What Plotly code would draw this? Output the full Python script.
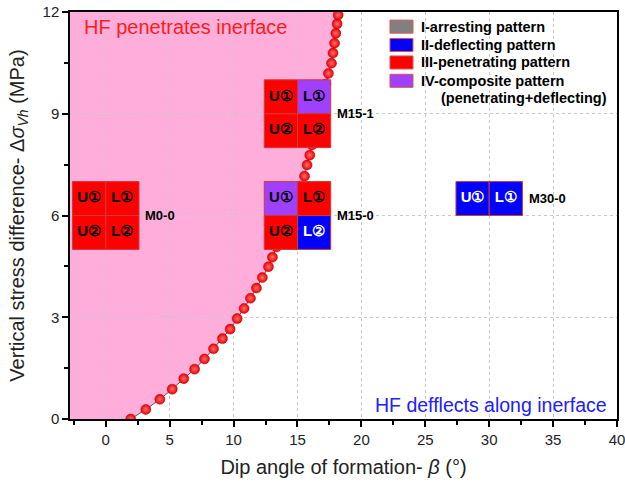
import plotly.graph_objects as go

# ---------------- data ----------------
# critical boundary curve (dip angle in deg, vertical stress difference in MPa)
curve_angle = [1.95, 3.13, 4.23, 5.20, 6.10, 6.95, 7.72, 8.43, 9.13, 9.73,
               10.28, 10.82, 11.32, 11.79, 12.25, 12.73, 13.04, 13.36, 13.68, 14.00,
               14.30, 14.60, 14.90, 15.22, 15.55, 15.75, 15.96, 16.14, 16.32, 16.50,
               16.68, 16.86, 17.04, 17.22, 17.42, 17.66, 17.78, 17.90, 18.00, 18.10,
               18.18]
curve_stress = [0.00, 0.28, 0.58, 0.88, 1.19, 1.47, 1.77, 2.07, 2.37, 2.65,
                2.96, 3.26, 3.56, 3.86, 4.17, 4.49, 4.77, 5.07, 5.37, 5.67,
                5.97, 6.27, 6.57, 6.87, 7.16, 7.49, 7.78, 8.08, 8.38, 8.68,
                8.98, 9.28, 9.58, 9.88, 10.19, 10.49, 10.79, 11.08, 11.37, 11.65,
                11.91]

samples = ["M0-0", "M15-0", "M15-1", "M30-0"]
sample_angle = [0, 15, 15, 30]
sample_stress = [6, 6, 9, 6.5]
sample_rows = [2, 2, 2, 1]

cell_sample = ["M0-0"] * 4 + ["M15-0"] * 4 + ["M15-1"] * 4 + ["M30-0"] * 2
cell_label = ["U①", "L①", "U②", "L②"] * 3 + ["U①", "L①"]
cell_pattern = ["III", "III", "III", "III",
                "IV", "III", "III", "II",
                "III", "IV", "III", "III",
                "II", "II"]

pattern_keys = ["I", "II", "III", "IV"]
pattern_names = ["I-arresting pattern", "II-deflecting pattern",
                 "III-penetrating pattern", "IV-composite pattern"]
pattern_colors = {"I": "#808080", "II": "#0000ff", "III": "#ff0000", "IV": "#a040ff"}
pattern_text_colors = {"I": "black", "II": "white", "III": "black", "IV": "black"}

x_tick_vals = [0, 5, 10, 15, 20, 25, 30, 35, 40]
y_tick_vals = [0, 3, 6, 9, 12]

X_MIN, X_MAX = -2.8, 40
Y_MIN, Y_MAX = 0, 12
CELL_W = 2.6
FONT = "Arial, Liberation Sans, sans-serif"

fig = go.Figure()

# pink region (HF penetrates) - below gridlines
path = "M %f,%f " % (X_MIN, Y_MIN)
for a, s in zip(curve_angle, curve_stress):
    path += "L %f,%f " % (a, s)
path += "L %f,%f L %f,%f Z" % (curve_angle[-1], Y_MAX + 1, X_MIN, Y_MAX + 1)
fig.add_shape(type="path", path=path, xref="x", yref="y", layer="below",
              fillcolor="#ffaedc", line=dict(width=0))

# boundary curve
fig.add_trace(go.Scatter(
    x=curve_angle, y=curve_stress, mode="lines+markers",
    line=dict(color="#555555", width=1),
    marker=dict(size=10, color="#ee0000",
                gradient=dict(type="radial", color="#ff7070"),
                line=dict(width=0.5, color="#b00000")),
    showlegend=False, hoverinfo="skip", cliponaxis=True))

# cells
idx = {s: i for i, s in enumerate(samples)}
lab_x, lab_y, lab_c = [], [], []
for samp, lab, pat in zip(cell_sample, cell_label, cell_pattern):
    i = idx[samp]
    col = 0 if lab.startswith("U") else 1
    row = 0 if "①" in lab else 1
    x0 = sample_angle[i] - CELL_W + col * CELL_W
    x1 = x0 + CELL_W
    top = sample_stress[i] + sample_rows[i] / 2
    y1 = top - row
    y0 = y1 - 1
    fig.add_trace(go.Scatter(
        x=[x0, x1, x1, x0, x0], y=[y0, y0, y1, y1, y0], mode="lines",
        fill="toself", fillcolor=pattern_colors[pat],
        line=dict(color="#d03838", width=1),
        showlegend=False, hoverinfo="skip"))
    lab_x.append((x0 + x1) / 2)
    lab_y.append((y0 + y1) / 2)
    lab_c.append(pattern_text_colors[pat])

fig.add_trace(go.Scatter(
    x=lab_x, y=lab_y, mode="text", text=["<b>%s</b>" % t for t in cell_label],
    textfont=dict(size=15, color=lab_c, family=FONT),
    textposition="middle center", showlegend=False, hoverinfo="skip"))

# sample names
for s, a, st in zip(samples, sample_angle, sample_stress):
    fig.add_annotation(x=a + CELL_W + 0.35, y=st, xref="x", yref="y",
                       text="<b>%s</b>" % s, showarrow=False, xanchor="left",
                       font=dict(size=13, color="black", family=FONT))

# region texts
fig.add_annotation(x=0.022, y=0.963, xref="paper", yref="paper",
                   text="HF penetrates inerface", showarrow=False,
                   xanchor="left", yanchor="middle",
                   font=dict(size=20, color="#ff1a1a", family=FONT))
fig.add_annotation(x=0.985, y=0.034, xref="paper", yref="paper",
                   text="HF defflects along inerface", showarrow=False,
                   xanchor="right", yanchor="middle",
                   font=dict(size=19.5, color="#2020ff", family=FONT))

# manual legend
leg_y = [0.964, 0.919, 0.876, 0.831]
for k, name, yy in zip(pattern_keys, pattern_names, leg_y):
    fig.add_shape(type="rect", xref="paper", yref="paper",
                  x0=0.585, x1=0.627, y0=yy - 0.016, y1=yy + 0.016,
                  fillcolor=pattern_colors[k], line=dict(color="#e05050", width=1))
    fig.add_annotation(x=0.638, y=yy, xref="paper", yref="paper",
                       text="<b>%s</b>" % name, showarrow=False,
                       xanchor="left", yanchor="middle",
                       font=dict(size=14.5, color="black", family=FONT))
fig.add_annotation(x=0.675, y=0.789, xref="paper", yref="paper",
                   text="<b>(penetrating+deflecting)</b>", showarrow=False,
                   xanchor="left", yanchor="middle",
                   font=dict(size=14.5, color="black", family=FONT))

axis_common = dict(
    showline=True, linecolor="black", linewidth=1.5, mirror=True,
    ticks="outside", ticklen=6, tickwidth=1.5, tickcolor="black",
    showgrid=True, gridcolor="#c8c8c8", griddash="dot", gridwidth=1,
    zeroline=False, tickfont=dict(size=15, color="#222222", family=FONT),
    automargin=False, ticklabeloverflow="allow",
)

fig.update_xaxes(range=[X_MIN, X_MAX], tickvals=x_tick_vals,
                 minor=dict(ticks="outside", ticklen=4, tickwidth=1.5,
                            tickcolor="black", dtick=2.5, tick0=0, showgrid=False),
                 title=dict(text="Dip angle of formation- <i>β</i> (°)",
                            font=dict(size=20, color="#222222", family=FONT),
                            standoff=13),
                 **axis_common)
fig.update_yaxes(range=[Y_MIN, Y_MAX], tickvals=y_tick_vals,
                 minor=dict(ticks="outside", ticklen=4, tickwidth=1.5,
                            tickcolor="black", dtick=1.5, tick0=0, showgrid=False),
                 title=dict(text="Vertical stress difference- Δ<i>σ</i><sub><i>Vh</i></sub> (MPa)",
                            font=dict(size=20, color="#222222", family=FONT),
                            standoff=13),
                 **axis_common)

fig.update_layout(
    width=625, height=486,
    margin=dict(l=70, r=8, t=12, b=67, autoexpand=False),
    plot_bgcolor="white", paper_bgcolor="white",
    showlegend=False,
    font=dict(family=FONT),
)

# remove the default 8 px page margin so the figure sits at the window corner
fig.write_html("out.html", config={"displayModeBar": False},
               post_script="document.body.style.margin='0';")
